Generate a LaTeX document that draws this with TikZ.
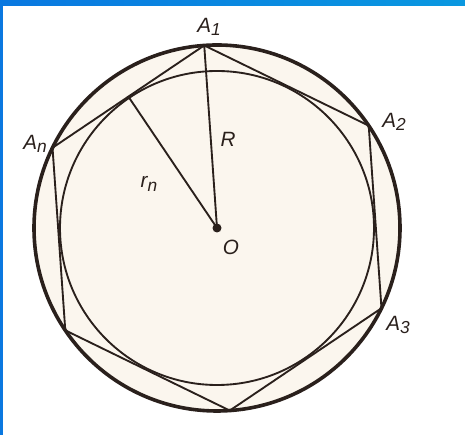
\documentclass[tikz,border=0pt]{standalone}
\usepackage{fontspec}
\setsansfont{Liberation Sans}
\usepackage{xcolor}
\usetikzlibrary{calc, positioning}

\definecolor{frameL}{HTML}{0A78E0}
\definecolor{frameR}{HTML}{0A98E0}
\definecolor{ink}{HTML}{2A201C}
\definecolor{paper}{HTML}{FBF6EE}

\newcommand{\sub}[1]{\raisebox{-0.3ex}{\fontsize{13}{15}\selectfont #1}}

\begin{document}
\begin{tikzpicture}[x=0.75pt, y=0.75pt,
    lbl/.style={font=\sffamily\itshape\fontsize{15.5}{18}\selectfont, text=ink, inner sep=1pt},
    rim/.style={line width=2.7pt, draw=ink},
    edge/.style={line width=1.4pt, draw=ink}]
    % 1. Khung
    \useasboundingbox (0,0) rectangle (465,435);
    \shade[left color=frameL, right color=frameR] (0,429) rectangle (465,435);
    \fill[frameL] (0,0) rectangle (3,435);

    % 2. Hai đường tròn
    \coordinate (O) at (217,207);
    \fill[paper] (O) circle (183);
    \draw[rim] (O) circle (183);
    \draw[edge] (O) circle (157);

    % 3. Lục giác đều nội tiếp
    \foreach \k/\nm in {0/A1,1/A2,2/A3,3/A4,4/A5,5/An} {
        \coordinate (\nm) at ($(O)+({94-60*\k}:183)$);
    }
    \draw[edge, line join=round] (A1) -- (A2) -- (A3) -- (A4) -- (A5) -- (An) -- cycle;

    % 4. Bán kính R và r_n
    \coordinate (T) at ($(O)+(124:157)$);
    \draw[edge] (O) -- (A1);
    \draw[edge] (O) -- (T);
    \fill[ink] (O) circle (4.5);

    % 5. Nhãn
    \node[lbl] (lA1) at (209,408) {A\sub{1}};
    \node[lbl] (lA2) at (394,313) {A\sub{2}};
    \node[lbl] (lAn) at (35,291) {A\sub{n}};
    \node[lbl] (lA3) at (398,110) {A\sub{3}};
    \node[lbl] (lR) at (228,296) {R};
    \node[lbl] (lr) at (149,251) {r\sub{n}};
    \node[lbl] (lO) at (231,188) {O};
\end{tikzpicture}
\end{document}
